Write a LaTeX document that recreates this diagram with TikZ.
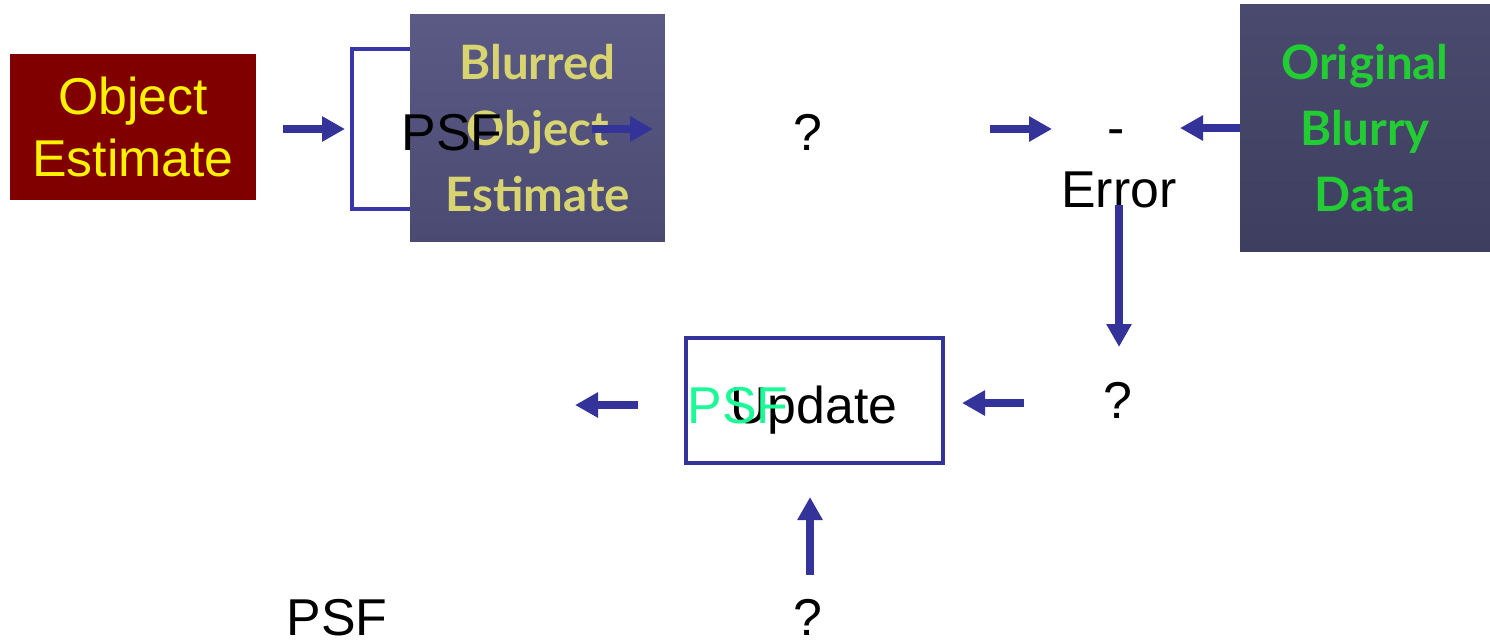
\documentclass[tikz,border=0pt]{standalone}
\usepackage{fontspec}
\setmainfont{Liberation Sans}
\newfontfamily\blurfont{Lato}
\usetikzlibrary{arrows.meta}
\definecolor{objred}{RGB}{128,0,0}
\definecolor{arrblue}{RGB}{51,51,153}
\definecolor{boxblue}{RGB}{55,55,170}
\definecolor{blurtop}{RGB}{90,90,133}
\definecolor{blurbot}{RGB}{74,74,114}
\definecolor{origtop}{RGB}{74,74,110}
\definecolor{origbot}{RGB}{62,62,96}
\definecolor{blurtxt}{RGB}{216,212,112}
\definecolor{origtxt}{RGB}{34,204,51}
\definecolor{psfgreen}{RGB}{26,250,150}

\begin{document}
\begin{tikzpicture}[x=0.02cm,y=-0.02cm,
  arr/.style={draw=arrblue,line width=0.16cm,-{Triangle[length=0.46cm,width=0.48cm]}},
  lbl/.style={inner sep=0pt,anchor=base,font=\fontsize{29.5pt}{35pt}\selectfont},
  fuzzy/.style={inner sep=0pt,align=center,font=\blurfont\bfseries\fontsize{27pt}{37.4pt}\selectfont}]
\useasboundingbox (0,0) rectangle (1490,640);
% top row
\node[fill=objred,text=yellow,minimum width=4.92cm,minimum height=2.94cm,align=center,
  font=\fontsize{29.5pt}{35pt}\selectfont] (obj) at (133,127) {Object\\Estimate};
\node[draw=boxblue,line width=0.08cm,minimum width=4cm,minimum height=3.2cm] (psfbox) at (452,129) {};
\node[top color=blurtop,bottom color=blurbot,minimum width=5.1cm,minimum height=4.56cm] (blur) at (537.5,128) {};
\node[fuzzy,text=blurtxt] (blurtext) at (blur) {Blurred\\Object\\Estimate};
\node[lbl] (psf1) at (452,150) {PSF};
\node[lbl] (q1) at (808,150) {?};
\node[lbl] (minus) at (1116,145) {-};
\node[lbl] (err) at (1119,207) {Error};
\node[top color=origtop,bottom color=origbot,minimum width=5cm,minimum height=4.96cm] (orig) at (1365,128) {};
\node[fuzzy,text=origtxt] (origtext) at (orig) {Original\\Blurry\\Data};
% bottom rows
\node[lbl] (q2) at (1118,418) {?};
\node[draw=arrblue,line width=0.09cm,minimum width=5.14cm,minimum height=2.5cm] (upd) at (814.5,400.5) {};
\node[lbl] (updtext) at (814,423) {Update};
\node[lbl,text=psfgreen] (psfg) at (738,423) {PSF};
\node[lbl] (q3) at (808,635) {?};
\node[lbl] (psf2) at (337,635) {PSF};
% arrows
\coordinate (a1s) at (283,129);
\coordinate (a1e) at (345,129);
\coordinate (a2s) at (592,129);
\coordinate (a2e) at (653,129);
\coordinate (a3s) at (990,129);
\coordinate (a3e) at (1052,129);
\coordinate (a4e) at (1180,128);
\coordinate (a5s) at (1119,205);
\coordinate (a5e) at (1119,347);
\coordinate (a6s) at (1024,403);
\coordinate (a6e) at (962,403);
\coordinate (a7s) at (638,405);
\coordinate (a7e) at (575,405);
\coordinate (a8s) at (810,575);
\coordinate (a8e) at (810,497);
\draw[arr] (a1s) -- (a1e);
\draw[arr] (a2s) -- (a2e);
\draw[arr] (a3s) -- (a3e);
\draw[arr] (orig.west) -- (a4e);
\draw[arr] (a5s) -- (a5e);
\draw[arr] (a6s) -- (a6e);
\draw[arr] (a7s) -- (a7e);
\draw[arr] (a8s) -- (a8e);
\end{tikzpicture}
\end{document}
